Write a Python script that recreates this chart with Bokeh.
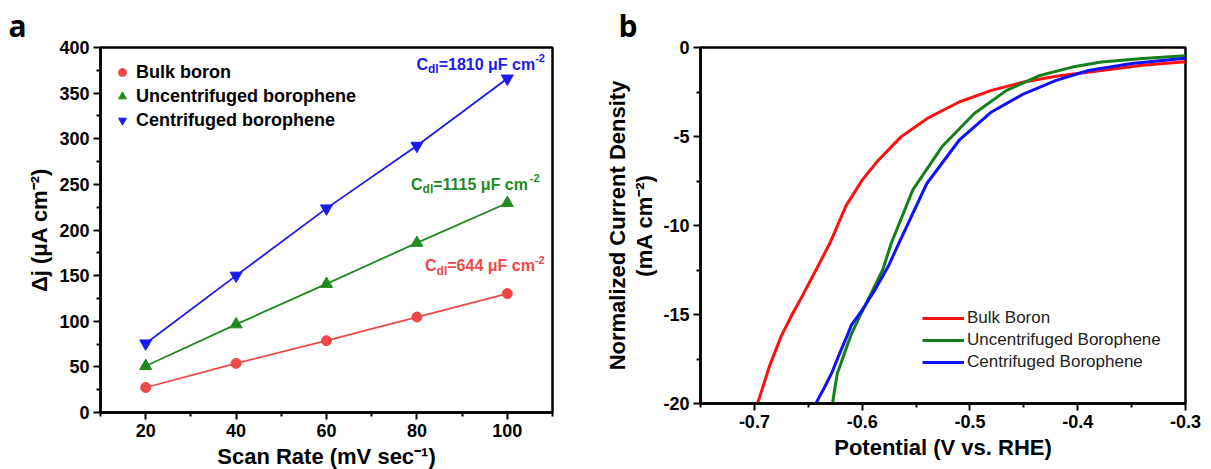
from bokeh.plotting import figure
from bokeh.models import (Range1d, FixedTicker, Legend, LegendItem, Label, LinearAxis,
                          PrintfTickFormatter)
from bokeh.layouts import row
from bokeh.embed import file_html
from bokeh.resources import INLINE

# ---------------- Panel a data ----------------
scan_rate = [20, 40, 60, 80, 100]
dj_bulk = [27.4, 53.8, 78.7, 104.6, 130.3]
dj_uncent = [50.9, 96.6, 140.9, 185.9, 229.6]
dj_cent = [75.7, 150.0, 223.7, 292.3, 366.0]
series_a = ["Bulk boron", "Uncentrifuged borophene", "Centrifuged borophene"]
cdl_values = [644, 1115, 1810]
a_xticks = [20, 40, 60, 80, 100]
a_xminor = [10, 30, 50, 70, 90, 110]
a_yticks = [0, 50, 100, 150, 200, 250, 300, 350, 400]
a_yminor = [25, 75, 125, 175, 225, 275, 325, 375]

# ---------------- Panel b data ----------------
pot_bulk = [-0.697, -0.686, -0.675, -0.665, -0.655, -0.642, -0.630, -0.615, -0.600,
            -0.585, -0.564, -0.540, -0.510, -0.480, -0.450, -0.420, -0.378, -0.340, -0.300]
cur_bulk = [-20.0, -17.9, -16.2, -15.0, -13.9, -12.4, -11.0, -8.9, -7.45,
            -6.33, -5.02, -4.0, -3.06, -2.41, -1.94, -1.62, -1.29, -1.0, -0.8]
pot_uncent = [-0.6275, -0.625, -0.623, -0.616, -0.610, -0.603, -0.594, -0.581, -0.573,
              -0.553, -0.526, -0.496, -0.466, -0.435, -0.405, -0.378, -0.340, -0.300]
cur_uncent = [-20.0, -19.0, -18.3, -17.1, -16.1, -15.2, -14.1, -12.5, -11.0,
              -8.0, -5.58, -3.71, -2.41, -1.57, -1.1, -0.82, -0.62, -0.47]
pot_cent = [-0.643, -0.635, -0.628, -0.621, -0.614, -0.610, -0.600, -0.588, -0.575,
            -0.566, -0.540, -0.510, -0.480, -0.450, -0.420, -0.390, -0.350, -0.300]
cur_cent = [-20.0, -19.1, -18.25, -17.2, -16.2, -15.6, -14.75, -13.6, -12.2,
            -11.0, -7.64, -5.21, -3.62, -2.6, -1.85, -1.29, -0.9, -0.6]
series_b = ["Bulk Boron", "Uncentrifuged Borophene", "Centrifuged Borophene"]
b_xticks = [-0.7, -0.6, -0.5, -0.4, -0.3]
b_xminor = [-0.75, -0.65, -0.55, -0.45, -0.35]
b_yticks = [-20, -15, -10, -5, 0]
b_yminor = [-17.5, -12.5, -7.5, -2.5]

FONT = "Liberation Sans"
RED_A, GREEN_A, BLUE_A = "#f04848", "#1f8a1f", "#1a1aee"
RED_B, GREEN_B, BLUE_B = "#ff1010", "#13801a", "#1010ff"


def style(p, xt, xm, yt, ym):
    p.outline_line_color = "black"
    p.outline_line_width = 2.5
    p.xgrid.visible = False
    p.ygrid.visible = False
    p.background_fill_color = "white"
    p.border_fill_color = "white"
    p.xaxis[0].ticker = FixedTicker(ticks=xt, minor_ticks=xm)
    p.yaxis[0].ticker = FixedTicker(ticks=yt, minor_ticks=ym)
    for ax in (p.xaxis[0], p.yaxis[0]):
        ax.axis_line_width = 2.5
        ax.axis_line_color = "black"
        ax.major_tick_line_width = 2
        ax.minor_tick_line_width = 2
        ax.major_tick_in = 0
        ax.major_tick_out = 7
        ax.minor_tick_in = 0
        ax.minor_tick_out = 4
        ax.major_label_text_font = FONT
        ax.major_label_text_font_style = "bold"
        ax.major_label_text_font_size = "18px"
        ax.major_label_text_color = "black"
        ax.axis_label_text_font = FONT
        ax.axis_label_text_font_style = "bold"
        ax.axis_label_text_font_size = "22px"
        ax.axis_label_text_color = "black"
        ax.major_label_standoff = 4
        ax.axis_label_standoff = 4


def panel_letter(p, letter, offset):
    p.title.text = letter
    p.title.align = "left"
    p.title.offset = offset
    p.title.standoff = 3
    p.title.text_font = "Open Sans"
    p.title.text_font_style = "bold"
    p.title.text_font_size = "30px"
    p.title.text_color = "black"


WID = {'C': .722, 'd': .611, 'l': .278, '=': .584, ' ': .278, 'μ': .611, 'F': .611,
       'c': .556, 'm': .889, '-': .333}


def tw(s, size):
    return sum(WID.get(ch, .556) for ch in s) * size


def cdl_label(p, x, y, val, color):
    parts = [("C", 16, 0), ("dl", 12, -5), ("=%d μF cm" % val, 16, 0), ("-2", 11, 6)]
    off = 0
    for txt, size, dy in parts:
        p.add_layout(Label(x=x, y=y, x_offset=off, y_offset=dy, text=txt,
                           text_font=FONT, text_font_style="bold",
                           text_font_size="%dpx" % size, text_color=color,
                           text_baseline="middle"))
        off += tw(txt, size)


# ---------------- Figure a ----------------
pa = figure(frame_width=452, frame_height=365, min_border_left=100, min_border_right=48,
            min_border_top=45, min_border_bottom=59, output_backend="svg",
            toolbar_location=None, x_range=Range1d(10, 110), y_range=Range1d(0, 400))
style(pa, a_xticks, a_xminor, a_yticks, a_yminor)
pa.xaxis[0].axis_label = "Scan Rate (mV sec⁻¹)"
pa.yaxis[0].axis_label = "Δj (μA cm⁻²)"
pa.xaxis[0].formatter = PrintfTickFormatter(format="%d")
pa.yaxis[0].formatter = PrintfTickFormatter(format="%d")
panel_letter(pa, "a", -92)

colors_a = [RED_A, GREEN_A, BLUE_A]
markers_a = ["circle", "triangle", "inverted_triangle"]
sizes_a = [10, 12, 12]
ys_a = [dj_bulk, dj_uncent, dj_cent]
items_a = []
for name, ys, c, m, s in zip(series_a, ys_a, colors_a, markers_a, sizes_a):
    pa.line(scan_rate, ys, line_color=c, line_width=1.8)
    r = pa.scatter(scan_rate, ys, marker=m, size=s, fill_color=c, line_color=c)
    items_a.append(LegendItem(label=name, renderers=[r]))

leg_a = Legend(items=items_a, location=(12, 280), padding=0, spacing=0, margin=0,
               label_height=24, glyph_height=24, glyph_width=20, label_standoff=4,
               border_line_color=None, background_fill_alpha=0,
               label_text_font=FONT, label_text_font_style="bold",
               label_text_font_size="18px", label_text_color="black")
pa.add_layout(leg_a)

cdl_pos = [(81.8, 161), (78.7, 250.4), (79.9, 381.8)]
for val, (x, y), c in zip(cdl_values, cdl_pos, colors_a):
    cdl_label(pa, x, y, val, c)

# ---------------- Figure b ----------------
pb = figure(frame_width=485, frame_height=356, min_border_left=100, min_border_right=26,
            min_border_top=47, min_border_bottom=66, output_backend="svg",
            toolbar_location=None, x_range=Range1d(-0.75, -0.3), y_range=Range1d(-20, 0))
style(pb, b_xticks, b_xminor, b_yticks, b_yminor)
pb.xaxis[0].axis_label = "Potential (V vs. RHE)"
pb.yaxis[0].axis_label = "(mA cm⁻²)"
pb.yaxis[0].axis_label_standoff = 3
pb.xaxis[0].formatter = PrintfTickFormatter(format="%.1f")
pb.yaxis[0].formatter = PrintfTickFormatter(format="%d")
panel_letter(pb, "b", -82)

extra = LinearAxis(ticker=FixedTicker(ticks=[]), axis_line_color=None,
                   major_tick_line_color=None, minor_tick_line_color=None,
                   axis_label="Normalized Current Density", axis_label_standoff=0,
                   axis_label_text_font=FONT, axis_label_text_font_style="bold",
                   axis_label_text_font_size="22px", axis_label_text_color="black",
                   major_label_text_font_size="0px")
pb.add_layout(extra, "left")

colors_b = [RED_B, GREEN_B, BLUE_B]
xs_b = [pot_bulk, pot_uncent, pot_cent]
ys_b = [cur_bulk, cur_uncent, cur_cent]
items_b = []
for name, xs, ys, c in zip(series_b, xs_b, ys_b, colors_b):
    r = pb.line(xs, ys, line_color=c, line_width=3)
    items_b.append(LegendItem(label=name, renderers=[r]))

leg_b = Legend(items=items_b, location=(222, 30), padding=0, spacing=0, margin=0,
               label_height=22, glyph_height=22, glyph_width=42, label_standoff=3,
               border_line_color=None, background_fill_alpha=0,
               label_text_font=FONT, label_text_font_size="17px",
               label_text_color="#222222")
pb.add_layout(leg_b)

layout = row(pa, pb, spacing=0)
open("out.html", "w").write(file_html(layout, INLINE))
